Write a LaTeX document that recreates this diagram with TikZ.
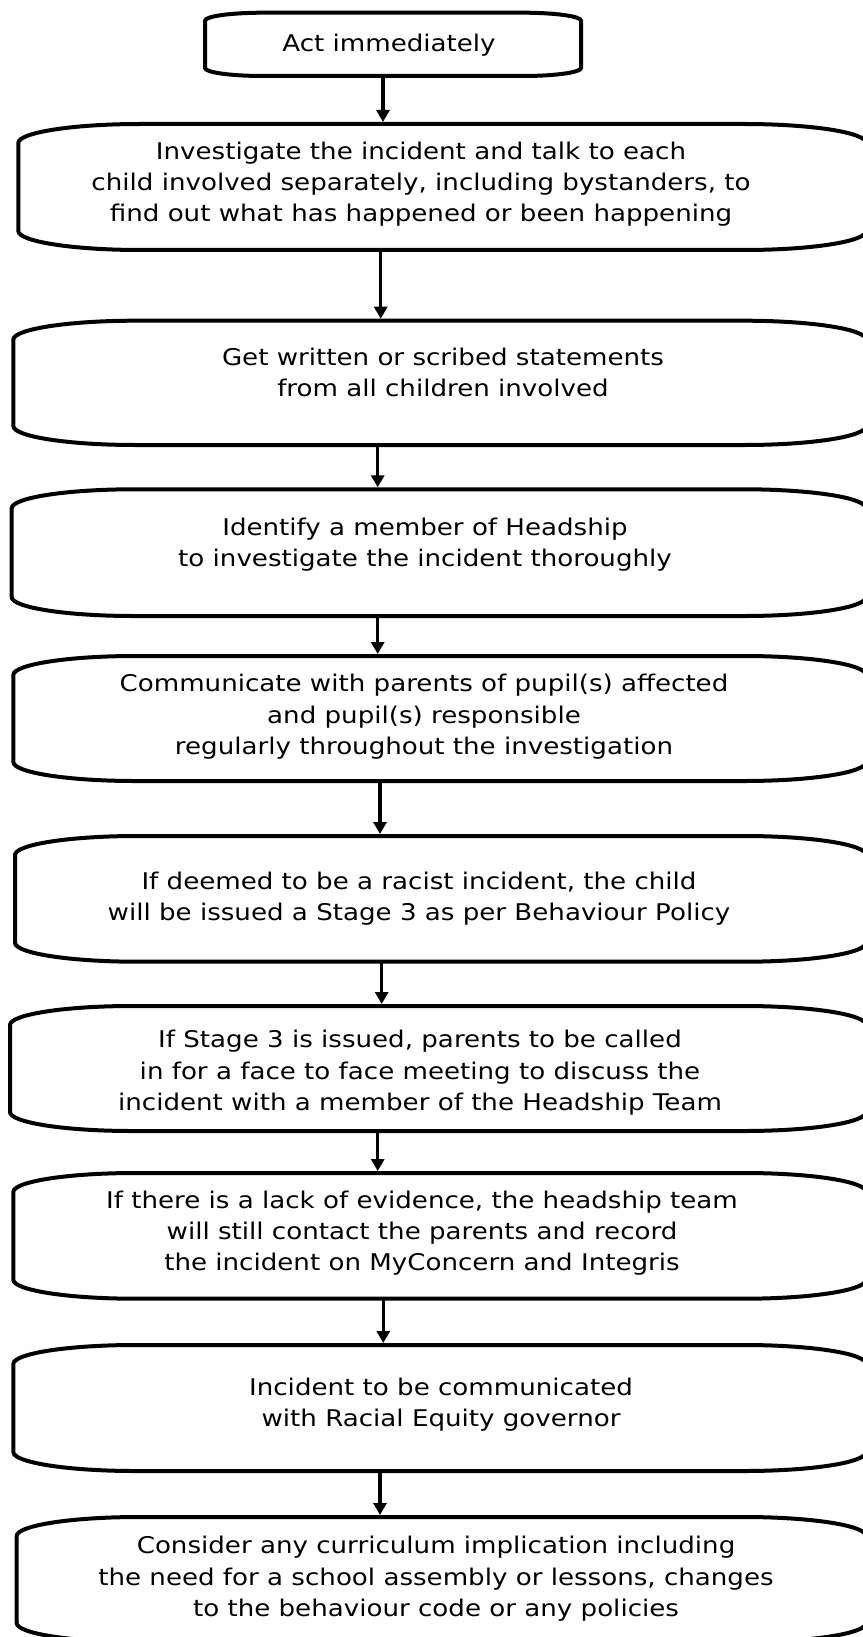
\documentclass[tikz,border=0pt]{standalone}
\usepackage{fontspec}
\newfontfamily\boxfont[FakeStretch=1.135]{DejaVu Sans}
\usetikzlibrary{arrows.meta}
\newcommand\flowshape[3]{%
  \draw[boxline] ([xshift=#2pt]#1.north west) -- ([xshift=-#2pt]#1.north east)
    arc[start angle=90, end angle=0, x radius=#2pt, y radius=#3pt]
    -- ([yshift=#3pt]#1.south east)
    arc[start angle=0, end angle=-90, x radius=#2pt, y radius=#3pt]
    -- ([xshift=#2pt]#1.south west)
    arc[start angle=270, end angle=180, x radius=#2pt, y radius=#3pt]
    -- ([yshift=-#3pt]#1.north west)
    arc[start angle=180, end angle=90, x radius=#2pt, y radius=#3pt] -- cycle;}
\tikzset{
  boxnode/.style={inner sep=0pt, outer sep=0pt, draw=none},
  boxline/.style={line width=4pt, black},
  txt/.style={inner sep=0pt, align=center, text=black,
    font={\boxfont\fontsize{23pt}{31.3pt}\selectfont}},
  arr/.style={line width=3.5pt, -{Triangle[width=13pt,length=12pt]}, shorten >=2pt}
}
\begin{document}
\begin{tikzpicture}[x=1pt,y=-1pt]
\useasboundingbox (0,0) rectangle (862,1637);
\fill[white] (0,0) rectangle (862,1637);
% boxes
\node[boxnode, minimum width=376pt, minimum height=63.3pt] (b1) at (393,44.35) {};
\node[boxnode, minimum width=847.7pt, minimum height=126pt] (b2) at (442.15,187) {};
\node[boxnode, minimum width=852.7pt, minimum height=124.3pt] (b3) at (439.65,382.85) {};
\node[boxnode, minimum width=854.3pt, minimum height=126.7pt] (b4) at (438.85,552.65) {};
\node[boxnode, minimum width=852.7pt, minimum height=125pt] (b5) at (439.65,718.5) {};
\node[boxnode, minimum width=851pt, minimum height=125.7pt] (b6) at (440.5,898.85) {};
\node[boxnode, minimum width=856pt, minimum height=125pt] (b7) at (438,1068.5) {};
\node[boxnode, minimum width=852.7pt, minimum height=125.7pt] (b8) at (439.65,1235.85) {};
\node[boxnode, minimum width=852.7pt, minimum height=126pt] (b9) at (439.65,1408) {};
\node[boxnode, minimum width=849.3pt, minimum height=125pt] (b10) at (441.35,1579.5) {};
\flowshape{b1}{58}{8}
\foreach \b in {b2,b3,b4,b5,b6,b7,b8,b9,b10}{\flowshape{\b}{122}{19}}
% texts
\node[txt] (t1) at (389,45.44) {\strut Act immediately};
\node[txt] (t2) at (421,184.34) {\strut Investigate the incident and talk to each\\\strut child involved separately, including bystanders, to\\\strut find out what has happened or been happening};
\node[txt] (t3) at (443,374.39) {\strut Get written or scribed statements\\\strut from all children involved};
\node[txt] (t4) at (425,544.39) {\strut Identify a member of Headship\\\strut to investigate the incident thoroughly};
\node[txt] (t5) at (424,716.74) {\strut Communicate with parents of pupil(s) affected\\\strut and pupil(s) responsible\\\strut regularly throughout the investigation};
\node[txt] (t6) at (419,898.69) {\strut If deemed to be a racist incident, the child\\\strut will be issued a Stage 3 as per Behaviour Policy};
\node[txt] (t7) at (420,1072.74) {\strut If Stage 3 is issued, parents to be called\\\strut in for a face to face meeting to discuss the\\\strut incident with a member of the Headship Team};
\node[txt] (t8) at (422,1233.34) {\strut If there is a lack of evidence, the headship team\\\strut will still contact the parents and record\\\strut the incident on MyConcern and Integris};
\node[txt] (t9) at (441,1404.69) {\strut Incident to be communicated\\\strut with Racial Equity governor};
\node[txt] (t10) at (436,1578.74) {\strut Consider any curriculum implication including\\\strut the need for a school assembly or lessons, changes\\\strut to the behaviour code or any policies};
% arrow columns
\coordinate (x1) at (383,0);
\coordinate (x2) at (380.7,0);
\coordinate (x3) at (377.7,0);
\coordinate (x4) at (377.7,0);
\coordinate (x5) at (380,0);
\coordinate (x6) at (381.7,0);
\coordinate (x7) at (377.7,0);
\coordinate (x8) at (383.3,0);
\coordinate (x9) at (380,0);
\draw[arr] (b1.south -| x1) -- (b2.north -| x1);
\draw[arr] (b2.south -| x2) -- (b3.north -| x2);
\draw[arr] (b3.south -| x3) -- (b4.north -| x3);
\draw[arr] (b4.south -| x4) -- (b5.north -| x4);
\draw[arr] (b5.south -| x5) -- (b6.north -| x5);
\draw[arr] (b6.south -| x6) -- (b7.north -| x6);
\draw[arr] (b7.south -| x7) -- (b8.north -| x7);
\draw[arr] (b8.south -| x8) -- (b9.north -| x8);
\draw[arr] (b9.south -| x9) -- (b10.north -| x9);
\end{tikzpicture}
\end{document}
